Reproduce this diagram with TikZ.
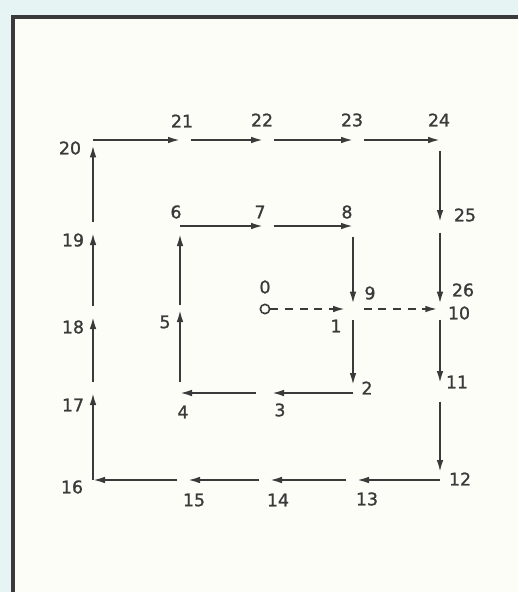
\documentclass[tikz,border=0pt]{standalone}
\usepackage{fontspec}
\setmainfont{DejaVu Sans}
\newfontfamily\lettering{DejaVu Sans}[FakeBold=1.2]
\usepackage{tikz}
\usetikzlibrary{arrows.meta}
\definecolor{ink}{HTML}{3A3A3A}
\definecolor{paper}{HTML}{FDFDF8}
\definecolor{mat}{HTML}{E6F4F3}

\begin{document}
\begin{tikzpicture}[
  x=0.75pt, y=-0.75pt,
  font=\lettering\fontsize{13}{15}\selectfont,
  every node/.style={color=ink, inner sep=0pt},
  seg/.style={-{Latex[length=9pt, width=5pt]}, line width=1.4pt, color=ink},
  walk/.style={seg, dash pattern=on 6pt off 5pt},
  gap/.style={shorten <=8pt},
  short/.style={shorten >=6pt},
  start/.style={circle, draw=ink, line width=1.2pt, minimum size=7pt}
]
\useasboundingbox (0,0) rectangle (518,592);
% Mount and frame
\fill[mat] (0,0) rectangle (518,592);
\fill[paper] (13,17) rectangle (518,592);
\draw[line width=3pt, color=ink] (13,592) -- (13,17) -- (518,17);
% Inner loop points
\node[start] (p0) at (265,309) {};
\coordinate (p1) at (353,309);
\coordinate (p2) at (353,393);
\coordinate (p3) at (272,393);
\coordinate (p4) at (180,393);
\coordinate (p5) at (180,310);
\coordinate (p6) at (180,226);
\coordinate (p7) at (263,226);
\coordinate (p8) at (353,226);
\coordinate (p9) at (353,309);
% Outer loop points
\coordinate (p10) at (440,309);
\coordinate (p11) at (440,383);
\coordinate (p12) at (440,480);
\coordinate (p13) at (357,480);
\coordinate (p14) at (270,480);
\coordinate (p15) at (188,480);
\coordinate (p16) at (93,480);
\coordinate (p17) at (93,393);
\coordinate (p18) at (93,317);
\coordinate (p19) at (93,233);
\coordinate (p20) at (93,140);
\coordinate (p21) at (180,140);
\coordinate (p22) at (263,140);
\coordinate (p23) at (353,140);
\coordinate (p24) at (440,140);
\coordinate (p25) at (440,222);
\coordinate (p26) at (440,309);
% Inner loop
\draw[walk, short] (p0) -- (p1);
\draw[seg, gap, short] (p1) -- (p2);
\draw[seg] (p2) -- (p3);
\draw[seg, shorten <=12pt] (p3) -- (p4);
\draw[seg, gap] (p4) -- (p5);
\draw[seg, shorten <=4pt, short] (p5) -- (p6);
\draw[seg] (p6) -- (p7);
\draw[seg, gap] (p7) -- (p8);
\draw[seg, gap, shorten >=4pt] (p8) -- (p9);
% Outer loop
\draw[walk, gap, shorten >=2pt] (p9) -- (p10);
\draw[seg, gap] (p10) -- (p11);
\draw[seg, shorten <=14pt, short] (p11) -- (p12);
\draw[seg] (p12) -- (p13);
\draw[seg, gap] (p13) -- (p14);
\draw[seg, gap] (p14) -- (p15);
\draw[seg, gap] (p15) -- (p16);
\draw[seg] (p16) -- (p17);
\draw[seg, gap] (p17) -- (p18);
\draw[seg, gap] (p18) -- (p19);
\draw[seg, gap, shorten >=4pt] (p19) -- (p20);
\draw[seg] (p20) -- (p21);
\draw[seg, gap] (p21) -- (p22);
\draw[seg, gap] (p22) -- (p23);
\draw[seg, gap] (p23) -- (p24);
\draw[seg, gap] (p24) -- (p25);
\draw[seg, gap, shorten >=4pt] (p25) -- (p26);
% Labels
\node (l0) at (265,287) {0};
\node (l1) at (336,326) {1};
\node (l2) at (367,388) {2};
\node (l3) at (280,410) {3};
\node (l4) at (183,412) {4};
\node (l5) at (165,322) {5};
\node (l6) at (176,212) {6};
\node (l7) at (260,212) {7};
\node (l8) at (347,212) {8};
\node (l9) at (370,293) {9};
\node (l10) at (459,313) {10};
\node (l11) at (457,382) {11};
\node (l12) at (460,479) {12};
\node (l13) at (367,499) {13};
\node (l14) at (278,500) {14};
\node (l15) at (194,500) {15};
\node (l16) at (72,487) {16};
\node (l17) at (73,405) {17};
\node (l18) at (73,327) {18};
\node (l19) at (73,240) {19};
\node (l20) at (70,148) {20};
\node (l21) at (182,121) {21};
\node (l22) at (262,120) {22};
\node (l23) at (352,120) {23};
\node (l24) at (439,120) {24};
\node (l25) at (465,215) {25};
\node (l26) at (463,290) {26};
\end{tikzpicture}
\end{document}
